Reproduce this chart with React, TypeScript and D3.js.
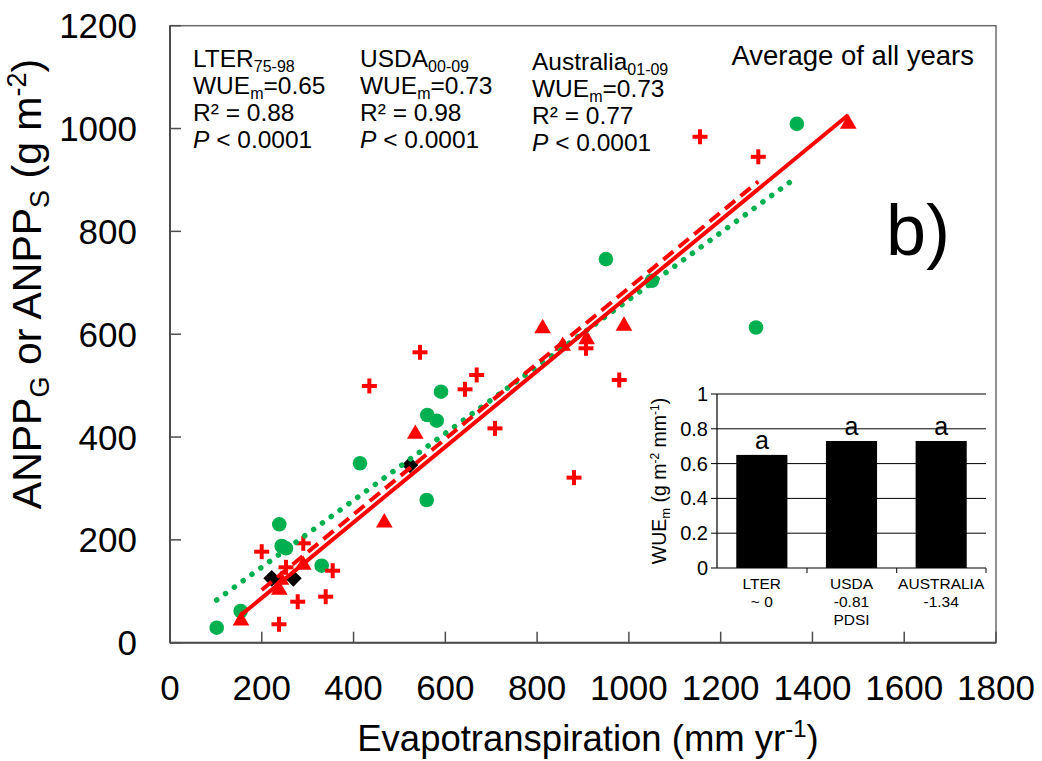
import React from "react";
import * as d3 from "d3";

// Evapotranspiration (mm/yr) and ANPP (g/m2) per dataset
const lterET = [101.8, 154, 238.2, 243.4, 252.8, 330.6, 414, 559.4, 560.7, 581.2, 590.6, 950, 1050, 1277, 1366];
const lterANPP = [29.2, 61.7, 230.3, 188, 183.6, 149.8, 349, 277.5, 442.8, 431.8, 488.2, 746, 704, 613, 1009];

const usdaET = [154.7, 238.2, 241.9, 290.5, 467, 534.6, 812, 855.7, 908, 989.3, 1478];
const usdaANPP = [42.8, 102.5, 121.9, 151, 233.4, 405.9, 611.4, 577, 590, 616, 1009];

const australiaET = [199.8, 290.5, 252.8, 354.5, 339.3, 278.3, 237.5, 434.4, 544.8, 642.9, 668.3, 708.2, 880.4, 906.5, 979, 1155, 1282];
const australiaANPP = [177, 193.3, 146.6, 140, 89.5, 79.7, 35.8, 499.3, 564.8, 492.8, 520.7, 416.8, 321, 572.6, 511, 984, 945];

const siteET = [221.6, 268.8, 523];
const siteANPP = [125.2, 125.2, 345.6];

// Linear trend fits [slope, intercept]
const lterFit = [0.6505, 16.8];
const usdaFit = [0.735, -60];
const australiaFit = [0.734, -44.1];

const xTicks = [0, 200, 400, 600, 800, 1000, 1200, 1400, 1600, 1800];
const yTicks = [0, 200, 400, 600, 800, 1000, 1200];

// Inset: mean WUE per dataset
const insetCats = ["LTER", "USDA", "AUSTRALIA"];
const insetWUE = [0.65, 0.73, 0.73];
const insetLetters = ["a", "a", "a"];
const insetCatLines = [["LTER", "~ 0"], ["USDA", "-0.81", "PDSI"], ["AUSTRALIA", "-1.34"]];
const insetTicks = [0, 0.2, 0.4, 0.6, 0.8, 1];

const FONT = "'Liberation Sans', Arial, sans-serif";
const GREEN = "#00B050";
const RED = "#FF0000";
const AXIS = "#4d4d4d";

const x = d3.scaleLinear().domain([0, 1800]).range([170, 996]);
const y = d3.scaleLinear().domain([0, 1200]).range([642.7, 25.7]);

const xIn = d3.scaleBand<string>().domain(insetCats).range([717, 986]).paddingInner(0.43).paddingOuter(0.215);
const yIn = d3.scaleLinear().domain([0, 1]).range([568, 394]);

function trend(et: number[], fit: number[]) {
  const [lo, hi] = d3.extent(et) as [number, number];
  const line = d3.line<number>().x((v) => x(v)).y((v) => y(fit[0] * v + fit[1]));
  return line([lo, hi]) || "";
}

const tri = d3.symbol().type(d3.symbolTriangle).size(120)() || "";
const sq = d3.symbol().type(d3.symbolSquare).size(140)() || "";

function Block({ x0, y0, title, sub, wue, r2 }: { x0: number; y0: number; title: string; sub: string; wue: string; r2: string }) {
  const lh = 27;
  return (
    <text x={x0} y={y0} fontSize={24.5} fontFamily={FONT} fill="#000">
      <tspan x={x0} y={y0}>{title}</tspan>
      <tspan fontSize={16} dy={5}>{sub}</tspan>
      <tspan x={x0} y={y0 + lh}>WUE</tspan>
      <tspan fontSize={16} dy={5}>m</tspan>
      <tspan dy={-5}>={wue}</tspan>
      <tspan x={x0} y={y0 + 2 * lh}>R² = {r2}</tspan>
      <tspan x={x0} y={y0 + 3 * lh} fontStyle="italic">P</tspan>
      <tspan> &lt; 0.0001</tspan>
    </text>
  );
}

export default function App() {
  return (
    <svg width={1042} height={761} style={{ display: "block", position: "absolute", left: 0, top: 0 }}>
      <rect width={1042} height={761} fill="#fff" />

      {/* plot frame */}
      <rect x={170} y={25.7} width={826} height={617} fill="none" stroke="#6b6b6b" strokeWidth={1.5} />
      <line x1={170} x2={170} y1={25.7} y2={642.7} stroke={AXIS} strokeWidth={2} />
      <line x1={170} x2={996} y1={642.7} y2={642.7} stroke={AXIS} strokeWidth={2} />

      {/* ticks and labels */}
      {yTicks.map((t) => (
        <g key={"y" + t}>
          <line x1={170} x2={181} y1={y(t)} y2={y(t)} stroke={AXIS} strokeWidth={1.5} />
          <text x={137} y={y(t) + 12.5} textAnchor="end" fontSize={35} fontFamily={FONT}>{t}</text>
        </g>
      ))}
      {xTicks.map((t) => (
        <g key={"x" + t}>
          <line x1={x(t)} x2={x(t)} y1={642.7} y2={631.7} stroke={AXIS} strokeWidth={1.5} />
          <text x={x(t)} y={700} textAnchor="middle" fontSize={35} fontFamily={FONT}>{t}</text>
        </g>
      ))}

      {/* axis titles */}
      <text x={588} y={751} textAnchor="middle" fontSize={36.5} fontFamily={FONT}>
        Evapotranspiration (mm yr<tspan fontSize={24} dy={-14}>-1</tspan><tspan dy={14}>)</tspan>
      </text>
      <text transform="translate(41,284) rotate(-90)" textAnchor="middle" fontSize={41} fontFamily={FONT}>
        ANPP<tspan fontSize={27} dy={8}>G</tspan><tspan dy={-8}> or ANPP</tspan><tspan fontSize={27} dy={8}>S</tspan><tspan dy={-8}> (g m</tspan><tspan fontSize={27} dy={-15}>-2</tspan><tspan dy={15}>)</tspan>
      </text>

      {/* markers */}
      {lterET.map((v, i) => (
        <circle key={"g" + i} cx={x(v)} cy={y(lterANPP[i])} r={7.3} fill={GREEN} />
      ))}
      {australiaET.map((v, i) => (
        <g key={"c" + i} transform={`translate(${x(v)},${y(australiaANPP[i])})`}>
          <line x1={-7.5} x2={7.5} y1={0} y2={0} stroke={RED} strokeWidth={4} />
          <line x1={0} x2={0} y1={-7.5} y2={7.5} stroke={RED} strokeWidth={4} />
        </g>
      ))}
      {usdaET.map((v, i) => (
        <path key={"t" + i} d={tri} transform={`translate(${x(v)},${y(usdaANPP[i])})`} fill={RED} />
      ))}
      {siteET.map((v, i) => (
        <path key={"d" + i} d={sq} transform={`translate(${x(v)},${y(siteANPP[i])}) rotate(45)`} fill="#000" />
      ))}

      {/* trend lines */}
      <path d={trend(lterET, lterFit)} stroke={GREEN} strokeWidth={5.5} strokeLinecap="round" strokeDasharray="0.1 10.8" fill="none" />
      <path d={trend(australiaET, australiaFit)} stroke={RED} strokeWidth={4} strokeDasharray="13 7" fill="none" />
      <path d={trend(usdaET, usdaFit)} stroke={RED} strokeWidth={4} fill="none" />

      {/* statistics */}
      <Block x0={193} y0={67} title="LTER" sub="75-98" wue="0.65" r2="0.88" />
      <Block x0={360} y0={67} title="USDA" sub="00-09" wue="0.73" r2="0.98" />
      <Block x0={532} y0={70} title="Australia" sub="01-09" wue="0.73" r2="0.77" />
      <text x={974} y={65} textAnchor="end" fontSize={27.5} fontFamily={FONT}>Average of all years</text>
      <text x={886} y={255} fontSize={72} fontFamily={FONT}>b)</text>

      {/* inset bar chart */}
      <g fontFamily={FONT}>
        {insetTicks.map((t) => (
          <g key={"it" + t}>
            {t > 0 && <line x1={717} x2={986} y1={yIn(t)} y2={yIn(t)} stroke="#000" strokeWidth={1} />}
            <line x1={711} x2={717} y1={yIn(t)} y2={yIn(t)} stroke="#000" strokeWidth={1} />
            <text x={708} y={yIn(t) + 7} textAnchor="end" fontSize={20}>{t}</text>
          </g>
        ))}
        {insetCats.map((c, i) => (
          <g key={c}>
            <rect x={xIn(c)} y={yIn(insetWUE[i])} width={xIn.bandwidth()} height={yIn(0) - yIn(insetWUE[i])} fill="#000" />
            <text x={(xIn(c) as number) + xIn.bandwidth() / 2} y={yIn(insetWUE[i]) - 6} textAnchor="middle" fontSize={25}>{insetLetters[i]}</text>
            {insetCatLines[i].map((s, j) => (
              <text key={j} x={(xIn(c) as number) + xIn.bandwidth() / 2} y={589 + j * 18} textAnchor="middle" fontSize={15.5}>{s}</text>
            ))}
          </g>
        ))}
        {[807, 896.7, 986].map((t) => (
          <line key={t} x1={t} x2={t} y1={568} y2={573} stroke="#000" strokeWidth={1} />
        ))}
        <line x1={717} x2={717} y1={394} y2={568} stroke="#000" strokeWidth={1.2} />
        <line x1={717} x2={986} y1={568} y2={568} stroke="#000" strokeWidth={1.2} />
        <text transform="translate(666,481) rotate(-90)" textAnchor="middle" fontSize={19.5}>
          WUE<tspan fontSize={13} dy={4}>m</tspan><tspan dy={-4}> (g m</tspan><tspan fontSize={12} dy={-7}>-2</tspan><tspan dy={7}> mm</tspan><tspan fontSize={12} dy={-7}>-1</tspan><tspan dy={7}>)</tspan>
        </text>
      </g>
    </svg>
  );
}
